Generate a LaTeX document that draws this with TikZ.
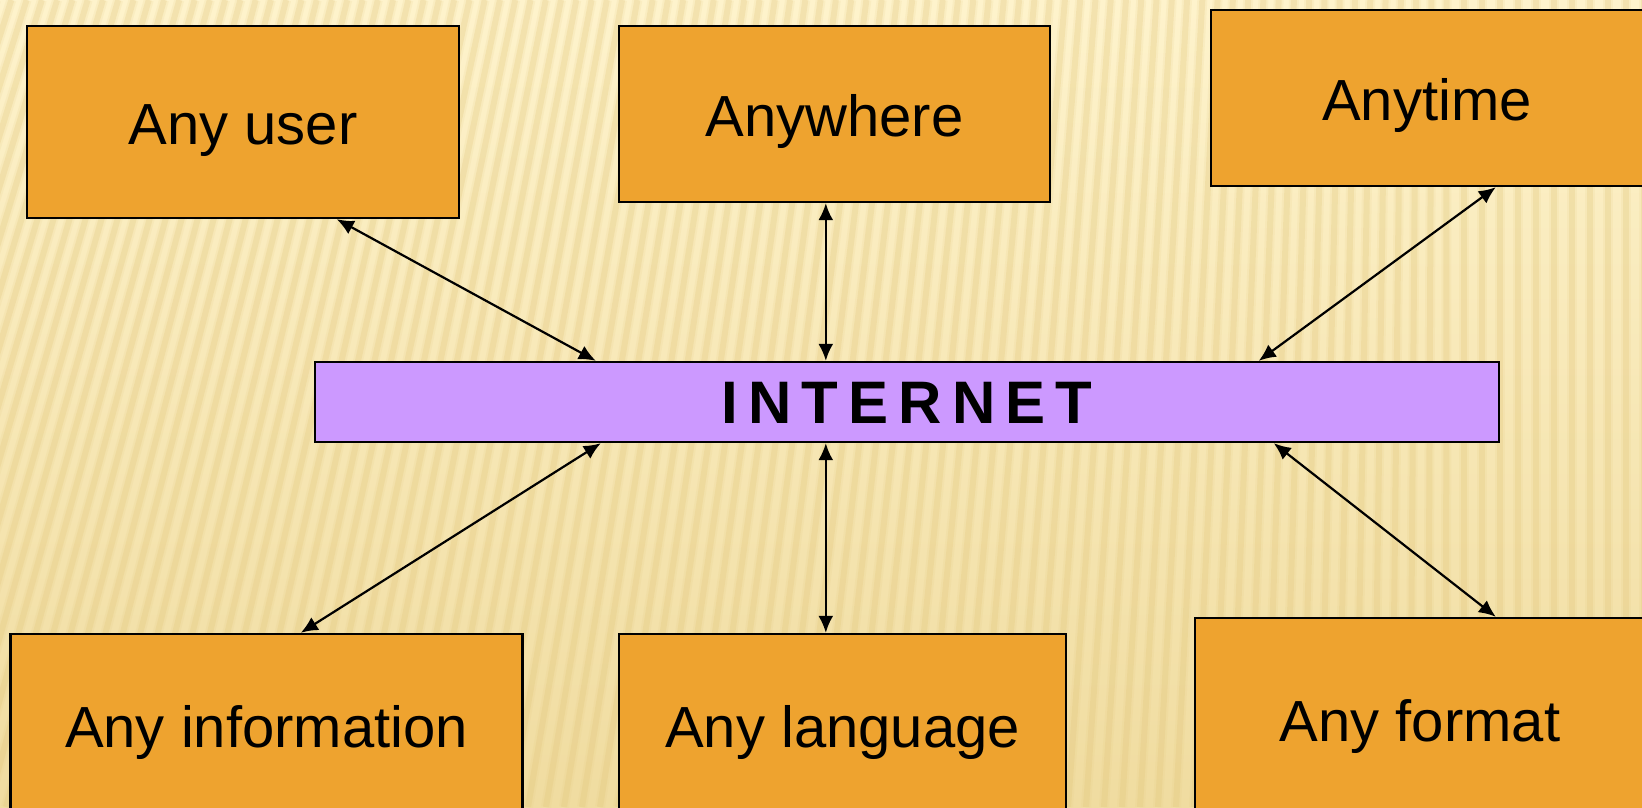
\documentclass[tikz,border=0pt]{standalone}
\usepackage{fontspec}
\setmainfont{Liberation Sans}
\usetikzlibrary{arrows.meta}
\definecolor{boxorange}{HTML}{EEA32F}
\definecolor{netpurple}{HTML}{CC99FF}
\definecolor{bgtop}{HTML}{FEF3CC}
\definecolor{bgbot}{HTML}{F0DCA0}
\definecolor{stripe}{HTML}{E2C679}
\begin{document}
\begin{tikzpicture}[x=1pt,y=-1pt,
  box/.style={draw=black, line width=2.4pt, fill=boxorange,
    font=\fontsize{58}{60}\selectfont, text height=53pt, text depth=7.4pt, inner sep=0pt},
  lowbox/.style={box, text height=54pt},
  netbar/.style={draw=black, line width=2.4pt, fill=netpurple, inner sep=0pt,
    font=\bfseries\fontsize{60}{62}\selectfont\addfontfeature{LetterSpace=17},
    text height=43pt, text depth=0pt},
  link/.style={line width=2.2pt, {Latex[length=17pt,width=15pt]}-{Latex[length=17pt,width=15pt]}}]
\useasboundingbox (0,0) rectangle (1642,807);
\clip (0,0) rectangle (1642,807);
% striped cream backdrop
\shade[top color=bgtop, bottom color=bgbot] (0,0) rectangle (1642,807);
\foreach \i in {0,...,110} {
  \pgfmathsetmacro\xx{\i*18-300}
  \pgfmathsetmacro\s{max(0,220*(1-\xx/1450))}
  \draw[stripe, opacity=0.25, line width=6pt] (\xx,807) -- (\xx+\s,0);
  \draw[stripe, opacity=0.12, line width=10pt] (\xx,807) -- (\xx+\s,0);
}
% boxes
\node[box, minimum width=432pt, minimum height=192pt] (user) at (243,122) {Any user};
\node[box, minimum width=431pt, minimum height=176pt] (where) at (834.5,114) {Anywhere};
\node[box, minimum width=432pt, minimum height=176pt] (time) at (1427,98) {Anytime};
\node[netbar, minimum width=1184pt, minimum height=80pt] (net) at (907,402) {INTERNET};
\node[lowbox, minimum width=512pt, minimum height=180pt] (info) at (266.5,724) {Any information};
\node[lowbox, minimum width=447pt, minimum height=180pt] (lang) at (842.5,724) {Any language};
\node[lowbox, minimum width=450pt, minimum height=200pt] (fmt) at (1420,718) {Any format};
% connectors
\draw[link] ([xshift=311pt]user.south west) -- ([xshift=282pt]net.north west);
\draw[link] ([xshift=208pt]where.south west) -- ([xshift=512pt]net.north west);
\draw[link] ([xshift=286pt]time.south west) -- ([xshift=945pt]net.north west);
\draw[link] ([xshift=287pt]net.south west) -- ([xshift=291.5pt]info.north west);
\draw[link] ([xshift=512pt]net.south west) -- ([xshift=208pt]lang.north west);
\draw[link] ([xshift=960pt]net.south west) -- ([xshift=302pt]fmt.north west);
\end{tikzpicture}
\end{document}
